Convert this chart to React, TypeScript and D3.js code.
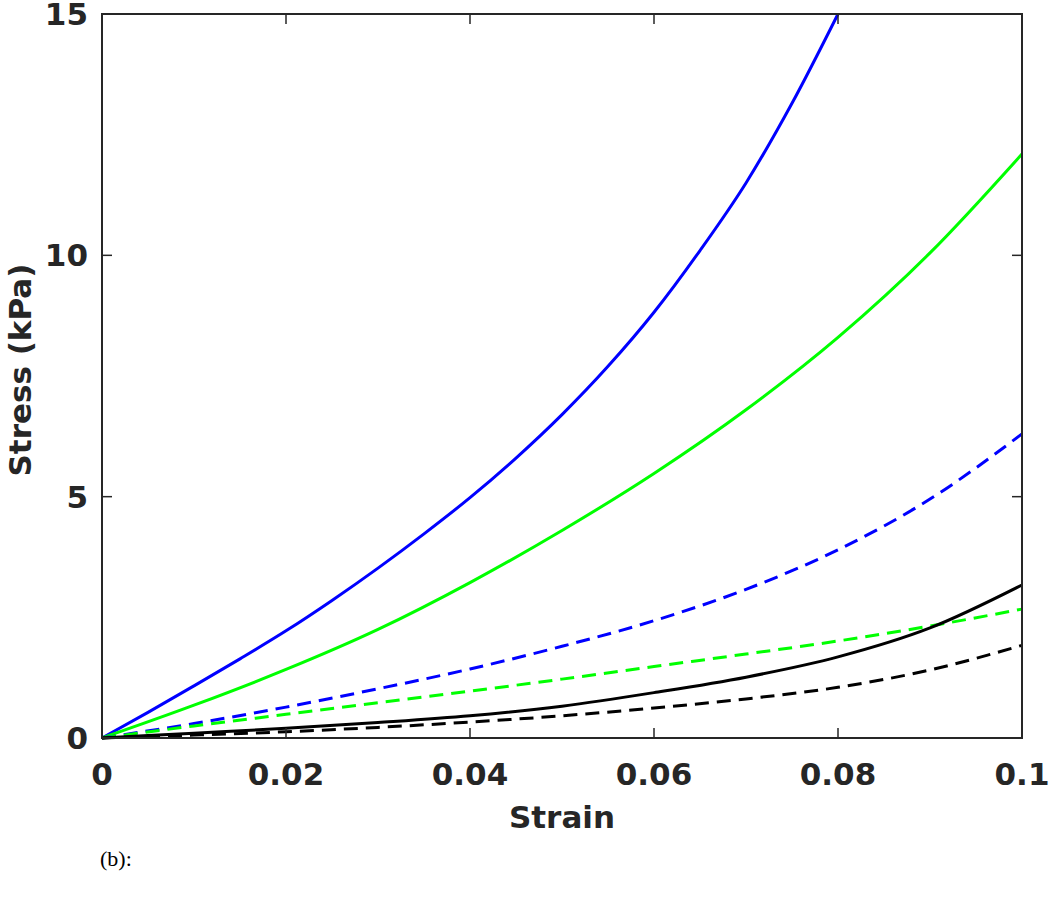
import { useEffect, useRef } from "react";
import * as d3 from "d3";

// strain grid (fine grid for the steep blue curve, coarse for the rest)
const STRAIN_FINE = [0, 0.005, 0.01, 0.015, 0.02, 0.025, 0.03, 0.035, 0.04, 0.045, 0.05, 0.055, 0.06, 0.065, 0.07, 0.075, 0.08];
const STRAIN = [0, 0.01, 0.02, 0.03, 0.04, 0.05, 0.06, 0.07, 0.08, 0.09, 0.1];

const BLUE_SOLID = [0, 0.53, 1.08, 1.64, 2.22, 2.85, 3.52, 4.23, 4.98, 5.8, 6.7, 7.7, 8.82, 10.1, 11.5, 13.15, 15.0];
const GREEN_SOLID = [0, 0.68, 1.42, 2.25, 3.22, 4.3, 5.48, 6.8, 8.3, 10.05, 12.1];
const BLUE_DASHED = [0, 0.3, 0.64, 1.02, 1.43, 1.9, 2.43, 3.08, 3.9, 4.95, 6.3];
const GREEN_DASHED = [0, 0.25, 0.49, 0.73, 0.97, 1.22, 1.48, 1.74, 2.01, 2.32, 2.67];
const BLACK_SOLID = [0, 0.1, 0.2, 0.32, 0.46, 0.66, 0.94, 1.26, 1.68, 2.28, 3.17];
const BLACK_DASHED = [0, 0.06, 0.13, 0.22, 0.33, 0.46, 0.62, 0.81, 1.05, 1.41, 1.92];

const X_TICKS = [0, 0.02, 0.04, 0.06, 0.08, 0.1];
const X_TICK_LABELS = ["0", "0.02", "0.04", "0.06", "0.08", "0.1"];
const Y_TICKS = [0, 5, 10, 15];

type Series = { xs: number[]; ys: number[]; color: string; dashed: boolean };

const SERIES: Series[] = [
  { xs: STRAIN_FINE, ys: BLUE_SOLID, color: "#0000ff", dashed: false },
  { xs: STRAIN, ys: GREEN_SOLID, color: "#00ff00", dashed: false },
  { xs: STRAIN, ys: BLUE_DASHED, color: "#0000ff", dashed: true },
  { xs: STRAIN, ys: GREEN_DASHED, color: "#00ff00", dashed: true },
  { xs: STRAIN, ys: BLACK_SOLID, color: "#000000", dashed: false },
  { xs: STRAIN, ys: BLACK_DASHED, color: "#000000", dashed: true },
];

const FONT = "'DejaVu Sans', sans-serif";

export default function App() {
  const svgRef = useRef<SVGSVGElement | null>(null);

  useEffect(() => {
    const svgElement = svgRef.current;
    if (!svgElement) return;
    document.body.style.margin = "0";

    const width = 1050;
    const height = 897;
    const margin = { top: 14, right: 28, bottom: 159, left: 102 };
    const innerW = width - margin.left - margin.right;
    const innerH = height - margin.top - margin.bottom;

    const x = d3.scaleLinear().domain([0, 0.1]).range([0, innerW]);
    const y = d3.scaleLinear().domain([0, 15]).range([innerH, 0]);

    const svg = d3.select(svgElement);
    svg.selectAll("*").remove();

    const chart = svg.append("g").attr("transform", `translate(${margin.left}, ${margin.top})`);

    const line = d3
      .line<[number, number]>()
      .x((d) => x(d[0]))
      .y((d) => y(d[1]))
      .curve(d3.curveMonotoneX);

    SERIES.forEach((s) => {
      const pts = s.xs.map((v, i) => [v, s.ys[i]] as [number, number]);
      chart
        .append("path")
        .attr("d", line(pts) ?? "")
        .attr("fill", "none")
        .attr("stroke", s.color)
        .attr("stroke-width", 3)
        .attr("stroke-dasharray", s.dashed ? "14 8" : null);
    });

    const axisColor = "#262626";
    const tickLen = 10;

    // inward ticks on all four sides
    X_TICKS.forEach((t) => {
      chart.append("line").attr("x1", x(t)).attr("x2", x(t)).attr("y1", innerH).attr("y2", innerH - tickLen)
        .attr("stroke", axisColor).attr("stroke-width", 1.5);
      chart.append("line").attr("x1", x(t)).attr("x2", x(t)).attr("y1", 0).attr("y2", tickLen)
        .attr("stroke", axisColor).attr("stroke-width", 1.5);
    });
    Y_TICKS.forEach((t) => {
      chart.append("line").attr("x1", 0).attr("x2", tickLen).attr("y1", y(t)).attr("y2", y(t))
        .attr("stroke", axisColor).attr("stroke-width", 1.5);
      chart.append("line").attr("x1", innerW).attr("x2", innerW - tickLen).attr("y1", y(t)).attr("y2", y(t))
        .attr("stroke", axisColor).attr("stroke-width", 1.5);
    });

    chart
      .append("rect")
      .attr("x", 0)
      .attr("y", 0)
      .attr("width", innerW)
      .attr("height", innerH)
      .attr("fill", "none")
      .attr("stroke", axisColor)
      .attr("stroke-width", 2);

    chart
      .selectAll("text.xtick")
      .data(X_TICKS)
      .join("text")
      .attr("class", "xtick")
      .attr("x", (d) => x(d))
      .attr("y", innerH + 47)
      .attr("text-anchor", "middle")
      .attr("font-family", FONT)
      .attr("font-weight", 700)
      .attr("font-size", 31)
      .attr("fill", axisColor)
      .text((_, i) => X_TICK_LABELS[i]);

    chart
      .selectAll("text.ytick")
      .data(Y_TICKS)
      .join("text")
      .attr("class", "ytick")
      .attr("x", -14)
      .attr("y", (d) => y(d))
      .attr("dy", "0.36em")
      .attr("text-anchor", "end")
      .attr("font-family", FONT)
      .attr("font-weight", 700)
      .attr("font-size", 31)
      .attr("fill", axisColor)
      .text((d) => `${d}`);

    chart
      .append("text")
      .attr("x", innerW / 2)
      .attr("y", innerH + 90)
      .attr("text-anchor", "middle")
      .attr("font-family", FONT)
      .attr("font-weight", 700)
      .attr("font-size", 31)
      .attr("fill", axisColor)
      .text("Strain");

    chart
      .append("text")
      .attr("transform", `translate(${-margin.left + 31}, ${innerH / 2 - 6}) rotate(-90)`)
      .attr("text-anchor", "middle")
      .attr("font-family", FONT)
      .attr("font-weight", 700)
      .attr("font-size", 31)
      .attr("fill", axisColor)
      .text("Stress (kPa)");

    svg
      .append("text")
      .attr("x", 100)
      .attr("y", 866)
      .attr("font-family", "'Liberation Serif', 'Times New Roman', serif")
      .attr("font-size", 22)
      .attr("fill", "#000")
      .text("(b):");
  }, []);

  return <svg ref={svgRef} width={1050} height={897} style={{ display: "block", background: "#fff" }} />;
}
